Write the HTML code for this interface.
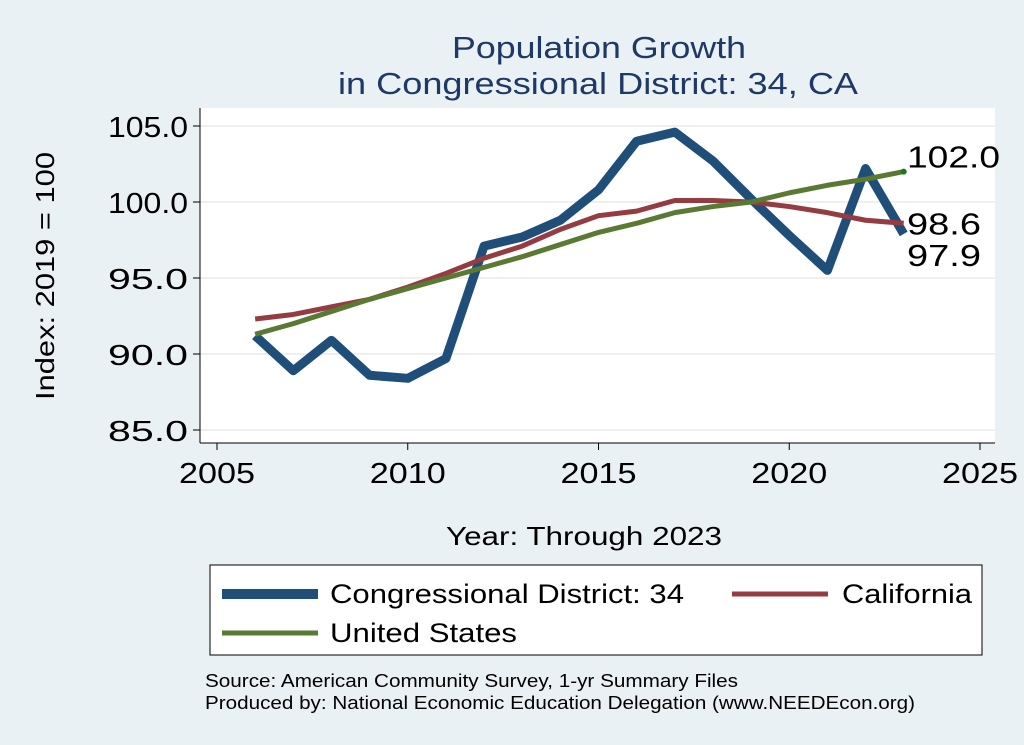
<!DOCTYPE html>
<html><head><meta charset="utf-8"><style>
body{margin:0;background:#eaf1f4;}
svg{display:block;font-family:"Liberation Sans",sans-serif;}
</style></head><body>
<svg width="1024" height="745" viewBox="0 0 1024 745">
<rect x="0" y="0" width="1024" height="745" fill="#eaf1f4"/>
<rect x="200" y="108" width="795" height="335" fill="#ffffff"/>
<text x="599" y="58" font-size="31" fill="#1f3864" text-anchor="middle" textLength="294" lengthAdjust="spacingAndGlyphs">Population Growth</text>
<text x="598" y="94" font-size="31" fill="#1f3864" text-anchor="middle" textLength="520" lengthAdjust="spacingAndGlyphs">in Congressional District: 34, CA</text>
<g id="grid"></g><g id="axes"></g><g id="series"></g><g id="labels"></g>
<text x="584" y="545" font-size="26" fill="#000" text-anchor="middle" textLength="276" lengthAdjust="spacingAndGlyphs">Year: Through 2023</text>
<text transform="translate(54,276) rotate(-90)" font-size="26" fill="#000" text-anchor="middle" textLength="248" lengthAdjust="spacingAndGlyphs">Index: 2019 = 100</text>
<g>
<rect x="210" y="565" width="772" height="90" fill="#fff" stroke="#000" stroke-width="1"/>
<line x1="222" y1="594" x2="318" y2="594" stroke="#1f4e79" stroke-width="10"/>
<text x="330" y="603" font-size="27" textLength="354" lengthAdjust="spacingAndGlyphs">Congressional District: 34</text>
<line x1="732" y1="594" x2="828" y2="594" stroke="#943c41" stroke-width="5"/>
<text x="842" y="603" font-size="27" textLength="130" lengthAdjust="spacingAndGlyphs">California</text>
<line x1="222" y1="633" x2="318" y2="633" stroke="#5a7a33" stroke-width="5"/>
<text x="330" y="642" font-size="27" textLength="187" lengthAdjust="spacingAndGlyphs">United States</text>
</g>
<text x="205" y="687" font-size="18" textLength="533" lengthAdjust="spacingAndGlyphs">Source: American Community Survey, 1-yr Summary Files</text>
<text x="205" y="709" font-size="18" textLength="710" lengthAdjust="spacingAndGlyphs">Produced by: National Economic Education Delegation (www.NEEDEcon.org)</text>
</svg>
<script>
const years=[2006,2007,2008,2009,2010,2011,2012,2013,2014,2015,2016,2017,2018,2019,2020,2021,2022,2023];
const cd34=[91.2,88.9,90.9,88.6,88.4,89.7,97.1,97.7,98.8,100.8,104.0,104.6,102.7,100.2,97.8,95.5,102.2,97.9];
const california=[92.3,92.6,93.1,93.6,94.4,95.3,96.3,97.1,98.2,99.1,99.4,100.1,100.1,100.0,99.7,99.3,98.8,98.6];
const unitedStates=[91.3,92.0,92.8,93.6,94.3,95.0,95.7,96.4,97.2,98.0,98.6,99.3,99.7,100.0,100.6,101.1,101.5,102.0];
const xTicks=[2005,2010,2015,2020,2025];
const yTicks=[85,90,95,100,105];
const xs=y=>217+(y-2005)*(980-217)/20;
const ys=v=>430-(v-85)*(430-126)/20;
const NS="http://www.w3.org/2000/svg";
function mk(tag,parent,attrs){const e=document.createElementNS(NS,tag);for(const k in attrs)e.setAttribute(k,attrs[k]);document.getElementById(parent).appendChild(e);return e;}
yTicks.forEach(t=>{
 const g=mk('line','grid',{x1:200,x2:995,y1:ys(t),y2:ys(t),stroke:'#eaeaea','stroke-width':1.5});
 
 
 const tk=mk('line','axes',{x1:193,x2:200,y1:ys(t),y2:ys(t),stroke:'#000'});
 
 
 const tx=mk('text','axes',{x:188,y:ys(t)+11,'font-size':29,'text-anchor':'end',textLength:80,lengthAdjust:'spacingAndGlyphs'});tx.textContent=t.toFixed(1);
 
 
});
xTicks.forEach(t=>{
 const tk=mk('line','axes',{x1:xs(t),x2:xs(t),y1:443,y2:450,stroke:'#000'});
 
 
 const tx=mk('text','axes',{x:xs(t),y:483,'font-size':29,'text-anchor':'middle',textLength:76,lengthAdjust:'spacingAndGlyphs'});tx.textContent=t;
 
 
});
const ya=mk('line','axes',{x1:200,x2:200,y1:108,y2:443,stroke:'#000'});


const xa=mk('line','axes',{x1:200,x2:995,y1:443,y2:443,stroke:'#000'});


function line(vals,color,w,name){
 const p=mk('polyline','series',{points:vals.map((v,i)=>xs(years[i])+','+ys(v)).join(' '),fill:'none',stroke:color,'stroke-width':w,'stroke-linejoin':'round'});
 
 
}
line(cd34,'#1f4e79',9,'line-cd34');
line(california,'#943c41',5,'line-california');
line(unitedStates,'#5a7a33',5,'line-united-states');
const last=years[years.length-1];
const d=mk('circle','series',{cx:xs(last),cy:ys(unitedStates[17]),r:3,fill:'#1a7a1a'});


[[unitedStates[17],'label-us-end'],[california[17],'label-california-end'],[cd34[17],'label-cd34-end']].forEach(([v,n],i)=>{
 const yy=i==0?ys(v)-4:(i==1?ys(v)+11:ys(v)+32);
 const t=mk('text','labels',{x:907,y:yy,'font-size':31,textLength:i==0?93:74,lengthAdjust:'spacingAndGlyphs'});t.textContent=v.toFixed(1);
 
 
});
</script>
</body></html>
